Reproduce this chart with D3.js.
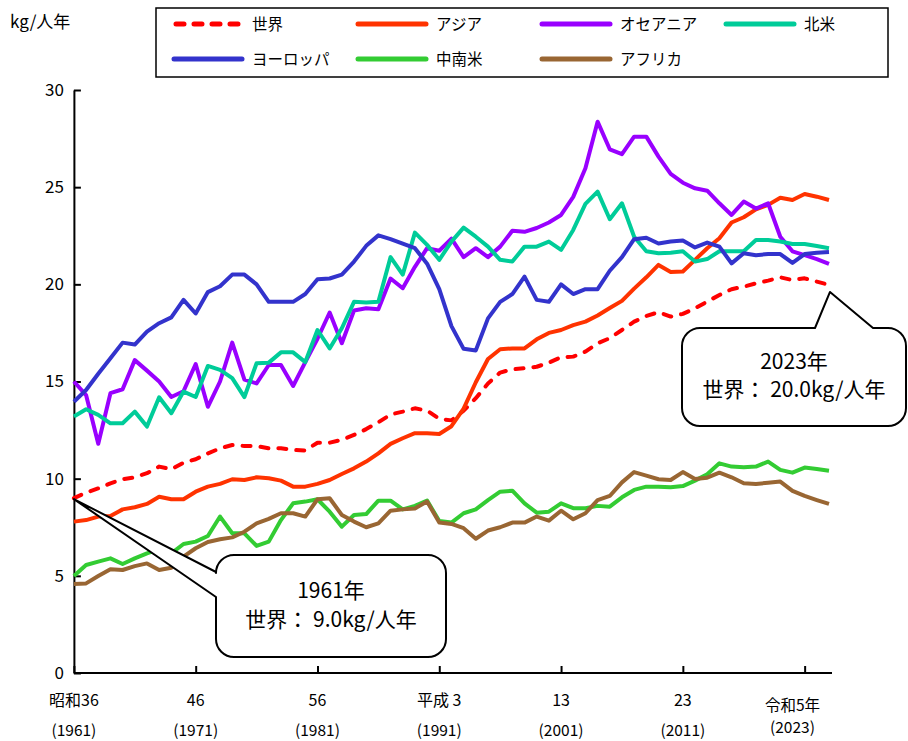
<!DOCTYPE html>
<html>
<head>
<meta charset="utf-8">
<script src="https://cdn.jsdelivr.net/npm/d3@7/dist/d3.min.js"></script>
<style>
html,body{margin:0;padding:0;background:#fff;}
svg{display:block;}
text{font-family:"Noto Sans CJK JP","Noto Sans",sans-serif;fill:#000;}
</style>
</head>
<body>
<svg id="chart" width="908" height="741"></svg>
<script>
// ---- data (kg per person per year), 1961–2023 ----
const firstYear = 1961, lastYear = 2023;
const world = [9.0,9.28,9.5,9.76,9.97,10.07,10.28,10.62,10.48,10.82,
  11.0,11.3,11.56,11.73,11.68,11.68,11.56,11.56,11.48,11.45,
  11.85,11.85,12.0,12.25,12.55,12.9,13.3,13.45,13.62,13.5,
  13.08,13.0,13.5,14.14,14.9,15.46,15.63,15.68,15.76,15.97,
  16.25,16.28,16.54,16.97,17.23,17.65,18.08,18.37,18.57,18.34,
  18.48,18.77,19.11,19.45,19.75,19.88,20.05,20.19,20.36,20.22,
  20.31,20.14,19.97];
const asia = [7.79,7.87,8.05,8.08,8.42,8.53,8.7,9.07,8.94,8.94,
  9.33,9.59,9.73,9.97,9.93,10.07,10.02,9.9,9.59,9.59,
  9.73,9.93,10.24,10.53,10.88,11.3,11.79,12.08,12.34,12.34,
  12.3,12.7,13.6,14.96,16.16,16.66,16.7,16.7,17.17,17.5,
  17.65,17.9,18.08,18.4,18.78,19.15,19.78,20.36,21.0,20.64,
  20.66,21.26,21.86,22.37,23.18,23.45,23.86,24.09,24.46,24.34,
  24.65,24.51,24.34];
const oceania = [15.0,14.3,11.8,14.4,14.6,16.1,15.56,15.0,14.2,14.5,
  15.9,13.7,15.0,17.0,15.1,14.9,15.85,15.85,14.77,16.0,
  17.2,18.55,16.97,18.65,18.77,18.72,20.3,19.8,20.9,21.86,
  21.73,22.35,21.4,21.86,21.4,21.94,22.76,22.7,22.9,23.18,
  23.57,24.5,25.97,28.37,26.95,26.7,27.6,27.6,26.57,25.68,
  25.23,24.94,24.82,24.17,23.57,24.26,23.9,24.17,22.45,21.7,
  21.5,21.3,21.05];
const northAmerica = [13.2,13.57,13.28,12.85,12.85,13.45,12.68,14.19,13.37,14.48,
  14.2,15.8,15.6,15.17,14.2,15.94,15.97,16.5,16.5,16.0,
  17.65,16.7,17.74,19.1,19.06,19.1,21.4,20.5,22.66,22.03,
  21.26,22.2,22.92,22.45,21.94,21.26,21.17,21.94,21.94,22.2,
  21.77,22.8,24.14,24.77,23.35,24.17,22.45,21.7,21.6,21.63,
  21.7,21.17,21.3,21.7,21.7,21.7,22.28,22.28,22.2,22.08,
  22.08,21.97,21.86];
const europe = [13.96,14.56,15.4,16.2,17.0,16.9,17.57,18.0,18.3,19.2,
  18.5,19.6,19.9,20.5,20.5,20.0,19.1,19.1,19.1,19.5,
  20.26,20.3,20.5,21.17,21.98,22.52,22.33,22.1,21.86,21.06,
  19.75,17.85,16.68,16.6,18.25,19.1,19.5,20.4,19.2,19.1,
  20.0,19.5,19.75,19.75,20.7,21.4,22.32,22.4,22.1,22.2,
  22.25,21.9,22.15,21.94,21.08,21.6,21.5,21.56,21.56,21.1,
  21.56,21.63,21.67];
const latinAmerica = [4.99,5.56,5.73,5.9,5.61,5.9,6.16,6.37,6.16,6.64,
  6.76,7.05,8.05,7.19,7.19,6.54,6.76,7.87,8.73,8.82,
  8.94,8.3,7.53,8.13,8.18,8.87,8.87,8.42,8.6,8.87,
  7.82,7.74,8.22,8.42,8.9,9.33,9.38,8.73,8.25,8.3,
  8.73,8.48,8.48,8.6,8.56,9.04,9.42,9.59,9.59,9.56,
  9.62,9.9,10.23,10.79,10.62,10.59,10.62,10.88,10.45,10.31,
  10.57,10.5,10.41];
const africa = [4.58,4.61,4.99,5.34,5.3,5.5,5.64,5.3,5.42,5.99,
  6.42,6.74,6.88,6.98,7.27,7.7,7.93,8.22,8.22,8.05,
  8.94,8.99,8.13,7.79,7.5,7.7,8.35,8.42,8.47,8.82,
  7.75,7.67,7.45,6.91,7.33,7.5,7.74,7.74,8.05,7.84,
  8.35,7.91,8.22,8.9,9.11,9.81,10.34,10.16,9.97,9.93,
  10.34,9.98,10.05,10.31,10.07,9.76,9.73,9.79,9.85,9.37,
  9.11,8.9,8.7];

const seriesNames = ["世界","アジア","オセアニア","北米","ヨーロッパ","中南米","アフリカ"];
const seriesColors = ["#FF0000","#FF3300","#9900FF","#00CC99","#3333CC","#33CC33","#996633"];
const seriesValues = [world, asia, oceania, northAmerica, europe, latinAmerica, africa];

const yTicks = [0,5,10,15,20,25,30];
const xTickYears = [1961,1971,1981,1991,2001,2011,2021];
const xLabelTop = ["昭和36","46","56","平成 3","13","23"];
const xLabelBottom = ["(1961)","(1971)","(1981)","(1991)","(2001)","(2011)"];
const lastLabelTop = "令和5年", lastLabelBottom = "(2023)";
const yUnit = "kg/人年";
const note1961 = ["1961年","世界： 9.0kg/人年"];
const note2023 = ["2023年","世界： 20.0kg/人年"];

// ---- layout ----
const svg = d3.select("#chart");
const x = d3.scaleLinear().domain([firstYear, lastYear]).range([73.9, 829]);
const y = d3.scaleLinear().domain([0, 30]).range([673, 90]);
const years = d3.range(firstYear, lastYear + 1);

// axes
const yAxis = d3.axisLeft(y).tickValues(yTicks).tickSizeInner(-7).tickSizeOuter(0).tickPadding(10);
const gy = svg.append("g").attr("transform", `translate(${x(firstYear)},0)`).call(yAxis);
gy.select(".domain").attr("stroke","#000").attr("stroke-width",2);
gy.selectAll(".tick line").attr("stroke","#000").attr("stroke-width",2);
gy.selectAll(".tick text").attr("font-size",17).attr("fill","#000")
  .style("font-family",'"Noto Sans CJK JP",sans-serif');

const xAxis = d3.axisBottom(x).tickValues(xTickYears).tickSizeInner(-7).tickSizeOuter(0).tickFormat("");
const gx = svg.append("g").attr("transform", `translate(0,${y(0)})`).call(xAxis);
gx.select(".domain").attr("stroke","#000").attr("stroke-width",2).attr("d", `M${x(firstYear)},0H832`);
gx.selectAll(".tick line").attr("stroke","#000").attr("stroke-width",2);

// x labels
xLabelTop.forEach((t,i)=>{
  svg.append("text").attr("x", x(xTickYears[i])).attr("y", 706)
    .attr("text-anchor","middle").attr("font-size",16).text(t);
  svg.append("text").attr("x", x(xTickYears[i])).attr("y", 736)
    .attr("text-anchor","middle").attr("font-size",15.5).text(xLabelBottom[i]);
});
svg.append("text").attr("x", x(2020)).attr("y", 711).attr("text-anchor","middle").attr("font-size",15.5).text(lastLabelTop);
svg.append("text").attr("x", x(2020)).attr("y", 733).attr("text-anchor","middle").attr("font-size",15.5).text(lastLabelBottom);

// unit
svg.append("text").attr("x", 10).attr("y", 28).attr("font-size",17).text(yUnit);

// lines
const line = d3.line().x((d,i)=>x(years[i])).y(d=>y(d));
seriesValues.forEach((vals,i)=>{
  const p = svg.append("path").datum(vals).attr("d", line)
    .attr("fill","none").attr("stroke", seriesColors[i]).attr("stroke-width",4)
    .attr("stroke-linejoin","round");
  if (i===0) p.attr("stroke-dasharray","8,10").attr("stroke-linecap","round");
});

// legend
svg.append("rect").attr("x",156).attr("y",8).attr("width",732).attr("height",69)
  .attr("fill","#fff").attr("stroke","#000").attr("stroke-width",1.5);
const colX = [174, 358, 542, 726];
const rowY = [24, 59];
seriesNames.forEach((n,i)=>{
  const cx = colX[i%4], cy = rowY[Math.floor(i/4)];
  const l = svg.append("line").attr("x1",cx).attr("x2",cx+68).attr("y1",cy).attr("y2",cy)
    .attr("stroke",seriesColors[i]).attr("stroke-width",5).attr("stroke-linecap","round");
  if (i===0) l.attr("stroke-dasharray","8,10").attr("x1",cx+2);
  svg.append("text").attr("x",cx+78).attr("y",cy+5.5).attr("font-size",15.5).text(n);
});

// callouts
function calloutLeft(x0,y0,x1,y1,r,w0,w1,tx,ty){
  return `M${x0+r},${y0}H${x1-r}A${r},${r} 0 0 1 ${x1},${y0+r}V${y1-r}A${r},${r} 0 0 1 ${x1-r},${y1}`+
    `H${x0+r}A${r},${r} 0 0 1 ${x0},${y1-r}V${w1}L${tx},${ty}L${x0},${w0}V${y0+r}A${r},${r} 0 0 1 ${x0+r},${y0}Z`;
}
function calloutTop(x0,y0,x1,y1,r,w0,w1,tx,ty){
  return `M${x0+r},${y0}H${w0}L${tx},${ty}L${w1},${y0}H${x1-r}A${r},${r} 0 0 1 ${x1},${y0+r}V${y1-r}A${r},${r} 0 0 1 ${x1-r},${y1}`+
    `H${x0+r}A${r},${r} 0 0 1 ${x0},${y1-r}V${y0+r}A${r},${r} 0 0 1 ${x0+r},${y0}Z`;
}
svg.append("path").attr("d", calloutLeft(216,555,446,657,18,572,597, x(firstYear), y(world[0])+1))
  .attr("fill","#fff").attr("stroke","#000").attr("stroke-width",2).attr("stroke-linejoin","round");
svg.append("text").attr("x",331).attr("y",598).attr("text-anchor","middle").attr("font-size",21).text(note1961[0]);
svg.append("text").attr("x",331).attr("y",627).attr("text-anchor","middle").attr("font-size",21).text(note1961[1]);

svg.append("path").attr("d", calloutTop(682,328,906,426,18,815,873, x(lastYear)+1, y(world[world.length-1])+7))
  .attr("fill","#fff").attr("stroke","#000").attr("stroke-width",2).attr("stroke-linejoin","round");
svg.append("text").attr("x",794).attr("y",369).attr("text-anchor","middle").attr("font-size",21).text(note2023[0]);
svg.append("text").attr("x",794).attr("y",397).attr("text-anchor","middle").attr("font-size",21).text(note2023[1]);
</script>
</body>
</html>
